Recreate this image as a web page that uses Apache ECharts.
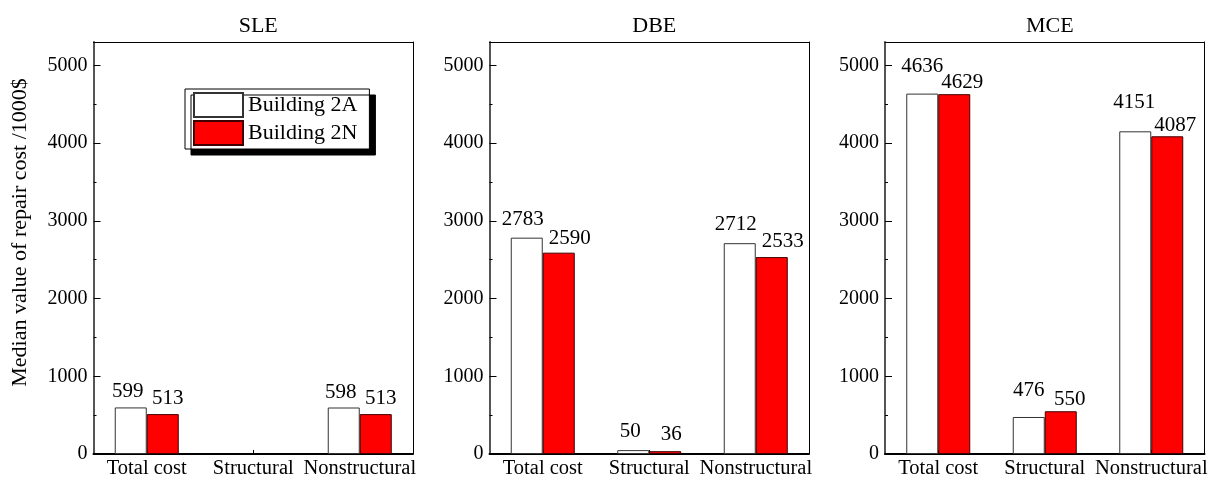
<!DOCTYPE html>
<html>
<head>
<meta charset="utf-8">
<script src="https://cdn.jsdelivr.net/npm/echarts@6/dist/echarts.min.js"></script>
<style>html,body{margin:0;padding:0;background:#fff}#c{width:1213px;height:481px}</style>
</head>
<body>
<div id="c"></div>
<script>
const categories = ['Total cost', 'Structural', 'Nonstructural'];
const panels = ['SLE', 'DBE', 'MCE'];
const seriesNames = ['Building 2A', 'Building 2N'];
const building2A = [
  [599, null, 598],
  [2783, 50, 2712],
  [4636, 476, 4151]
];
const building2N = [
  [513, null, 513],
  [2590, 36, 2533],
  [4629, 550, 4087]
];
const yTicks = [0, 1000, 2000, 3000, 4000, 5000];

// label placement (style only): [distance above bar, horizontal shift] per panel/category
const labelPos2A = [
  [[5, -3], [5, -3], [5, -3]],
  [[8, -4], [8, -3], [8, -4]],
  [[17, 0], [16, 0], [18, -1]]
];
const labelPos2N = [
  [[5, 5], [5, 5], [5, 5]],
  [[4, 11], [6, 6], [5, 11]],
  [[1, 8], [1, 9], [0, 8]]
];

const FONT = 'Liberation Serif';
const gridLefts = [93.5, 489.5, 885];
const gridWidth = 319.5;

const grids = gridLefts.map(l => ({left: l, width: gridWidth, top: 42, bottom: 27, show: false}));
const titles = panels.map((p, i) => ({
  text: p, left: gridLefts[i] + gridWidth / 2, top: 10, textAlign: 'center',
  textStyle: {fontFamily: FONT, fontSize: 22, fontWeight: 'normal', color: '#000'}
}));
const xAxes = panels.map((p, i) => ({
  type: 'category', gridIndex: i, data: categories,
  axisLine: {show: true, onZero: false, lineStyle: {color: '#000', width: 2}},
  axisTick: {show: true, inside: true, alignWithLabel: true, length: 4, lineStyle: {color: '#000'}},
  axisLabel: {interval: 0, fontFamily: FONT, fontSize: 20.5, color: '#000', margin: 4}
}));
const xAxesTop = panels.map((p, i) => ({
  type: 'category', gridIndex: i, position: 'top', data: categories,
  axisLine: {show: true, onZero: false, lineStyle: {color: '#000', width: 1}},
  axisTick: {show: false}, axisLabel: {show: false}
}));
const yAxes = panels.map((p, i) => ({
  type: 'value', gridIndex: i, min: 0, max: 5300, interval: 1000,
  name: i === 0 ? 'Median value of repair cost /1000$' : '',
  nameLocation: 'middle', nameGap: 62,
  nameTextStyle: {fontFamily: FONT, fontSize: 22, color: '#000', padding: [0, 0, 0, 31]},
  axisLine: {show: true, onZero: false, lineStyle: {color: '#555', width: 2}},
  axisTick: {show: true, inside: true, length: 7, lineStyle: {color: '#000'}},
  minorTick: {show: true, splitNumber: 2, length: 3, lineStyle: {color: '#000'}},
  splitLine: {show: false},
  axisLabel: {fontFamily: FONT, fontSize: 20, color: '#000', margin: 6, showMaxLabel: false,
    formatter: v => (yTicks.indexOf(v) >= 0 ? String(v) : '')}
}));
const yAxesRight = panels.map((p, i) => ({
  type: 'value', gridIndex: i, min: 0, max: 5300, interval: 1000, position: 'right',
  axisLine: {show: true, onZero: false, lineStyle: {color: '#000', width: 1}},
  axisTick: {show: false}, axisLabel: {show: false}, splitLine: {show: false}
}));

function makeSeries(name, values, pos, itemStyle, i) {
  return {
    name: name, type: 'bar', xAxisIndex: i, yAxisIndex: i,
    data: values.map((v, j) => ({
      value: v,
      label: {distance: pos[j][0], offset: [pos[j][1], 0]}
    })),
    barWidth: 32, barGap: '0%',
    itemStyle: itemStyle,
    label: {show: true, position: 'top',
      fontFamily: FONT, fontSize: 21, color: '#000',
      formatter: d => (d.value ? String(d.value) : '')}
  };
}

const series = [];
panels.forEach((p, i) => {
  series.push(makeSeries(seriesNames[0], building2A[i], labelPos2A[i],
    {color: '#fff', borderColor: '#333', borderWidth: 1}, i));
  series.push(makeSeries(seriesNames[1], building2N[i], labelPos2N[i],
    {color: '#ff0000', borderColor: '#400000', borderWidth: 1}, i));
});

const chart = echarts.init(document.getElementById('c'), null, {renderer: 'canvas'});
chart.setOption({
  animation: false,
  backgroundColor: '#fff',
  title: titles,
  grid: grids,
  xAxis: xAxes.concat(xAxesTop),
  yAxis: yAxes.concat(yAxesRight),
  legend: {
    data: seriesNames, left: 185, top: 89, orient: 'vertical', icon: 'rect',
    itemWidth: 49, itemHeight: 24, itemGap: 2, padding: [3, 12, 3, 8],
    backgroundColor: '#fff', borderColor: '#000', borderWidth: 1,
    shadowColor: '#000', shadowBlur: 0, shadowOffsetX: 6, shadowOffsetY: 6,
    textStyle: {fontFamily: FONT, fontSize: 22, color: '#000'},
    selectedMode: false
  },
  series: series
});
</script>
</body>
</html>
